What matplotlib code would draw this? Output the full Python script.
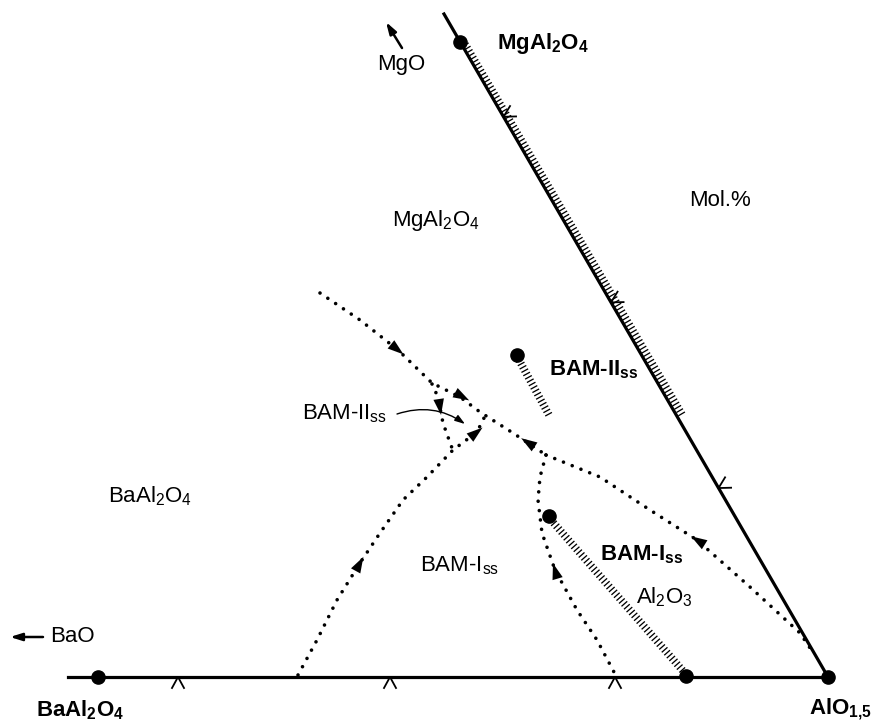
import numpy as np
import matplotlib
matplotlib.use("Agg")
import matplotlib.pyplot as plt

plt.rcParams["font.family"] = ["Liberation Sans", "DejaVu Sans"]
plt.rcParams["mathtext.fontset"] = "custom"
plt.rcParams["mathtext.rm"] = "Liberation Sans"
plt.rcParams["mathtext.bf"] = "Liberation Sans:bold"
plt.rcParams["mathtext.it"] = "Liberation Sans:italic"

# diagram coordinates (image-like units, y grows downward)
corner_ba = (68, 677)        # left end of BaAl2O4-AlO1.5 join
corner_al = (828, 677)       # AlO1,5
corner_mg = (444, 14)        # top end of MgAl2O4 join

phase_x = [98, 460, 828, 686, 517, 549]
phase_y = [677, 42, 677, 676, 355, 516]

# hatched solid-solution ranges
ss_mg_x, ss_mg_y = [462, 680], [46, 418]
ss_bam2_x, ss_bam2_y = [519, 549], [360, 415]
ss_bam1_x, ss_bam1_y = [551, 684], [520, 672]

# dotted boundary curves
cot_a_x = [320, 360, 398, 432, 460, 480, 513, 546]
cot_a_y = [293, 320, 350, 383, 397, 412, 433, 455]
cot_b_x = [432, 437, 440, 443, 448, 452]
cot_b_y = [384, 395, 408, 423, 437, 448]
cot_c_x = [298, 317, 337, 360, 380, 403, 427, 453, 477, 485]
cot_c_y = [675, 640, 600, 563, 533, 500, 477, 450, 432, 416]
cot_d_x = [546, 600, 650, 697, 750, 800, 810]
cot_d_y = [455, 477, 510, 540, 587, 633, 648]
cot_e_x = [546, 540, 538, 542, 555, 577, 597, 615]
cot_e_y = [455, 477, 500, 533, 570, 610, 640, 674]

# arrowheads on the curves: position and direction
arr_x = [398, 463, 527, 440, 360, 477, 697, 555]
arr_y = [350, 397, 442, 408, 563, 432, 540, 570]
arr_dx = [1.0, 1.0, -1.0, 0.15, 0.55, 1.0, -1.0, -0.3]
arr_dy = [0.8, 0.55, -0.65, 1.0, -1.0, -0.8, -0.62, -1.0]

# chevrons on the solid joins
chev_bot_x = [178, 390, 615]
chev_right_t = [0.155, 0.435, 0.715]


def chevron(ax, p, u, n):
    p = np.asarray(p, float)
    a = p + 11 * n - 6 * u
    b = p + 11 * n + 6 * u
    ax.plot([a[0], p[0], b[0]], [a[1], p[1], b[1]], color="black", lw=1.3)


fig = plt.figure(figsize=(8.76, 7.25), dpi=100)
ax = fig.add_axes([0, 0, 1, 1])
ax.set_xlim(0, 876)
ax.set_ylim(725, 0)
ax.axis("off")

dot_kw = dict(color="black", lw=2.6, linestyle=(0, (0.01, 2.6)), dash_capstyle="round")
for xs, ys in [(cot_a_x, cot_a_y), (cot_b_x, cot_b_y), (cot_c_x, cot_c_y),
               (cot_d_x, cot_d_y), (cot_e_x, cot_e_y)]:
    ax.plot(xs, ys, **dot_kw)

# hatching: short strokes perpendicular to the path
hatch_kw = dict(color="black", lw=5.5, linestyle=(0, (0.17, 0.33)), dash_capstyle="butt")
u_r = np.array([corner_al[0] - corner_mg[0], corner_al[1] - corner_mg[1]], float)
u_r /= np.hypot(*u_r)
n_r = np.array([u_r[1], -u_r[0]])
off = 3.5 * n_r
ax.plot(np.array(ss_mg_x) + off[0], np.array(ss_mg_y) + off[1], **hatch_kw)
ax.plot(ss_bam2_x, ss_bam2_y, **hatch_kw)
ax.plot(ss_bam1_x, ss_bam1_y, **hatch_kw)

# solid joins
ax.plot([corner_ba[0], corner_al[0]], [corner_ba[1], corner_al[1]], color="black", lw=2.3)
ax.plot([corner_mg[0], corner_al[0]], [corner_mg[1], corner_al[1]], color="black", lw=2.3)

for x in chev_bot_x:
    chevron(ax, (x, corner_ba[1]), np.array([1.0, 0.0]), np.array([0.0, 1.0]))
for t in chev_right_t:
    p = np.array(corner_mg, float) + t * (np.array(corner_al, float) - np.array(corner_mg, float))
    chevron(ax, p, u_r, n_r)

ax.plot(phase_x, phase_y, "o", color="black", ms=9.5, zorder=5)

for x, y, dx, dy in zip(arr_x, arr_y, arr_dx, arr_dy):
    d = np.array([dx, dy]) / np.hypot(dx, dy)
    ax.annotate("", xy=(x + 7 * d[0], y + 7 * d[1]), xytext=(x - 7 * d[0], y - 7 * d[1]),
                arrowprops=dict(arrowstyle="-|>,head_length=1.15,head_width=0.38",
                                color="black", lw=0.01, shrinkA=0, shrinkB=0))

# direction arrows for MgO and BaO
ax.annotate("", xy=(386, 22), xytext=(402, 48),
            arrowprops=dict(arrowstyle="-|>,head_length=0.7,head_width=0.22",
                            color="black", lw=1.8, shrinkA=0, shrinkB=0))
ax.annotate("", xy=(10, 637), xytext=(43, 637),
            arrowprops=dict(arrowstyle="-|>,head_length=0.7,head_width=0.22",
                            color="black", lw=1.8, shrinkA=0, shrinkB=0))

# pointer to the small BAM-II field
ax.annotate("", xy=(465, 424), xytext=(397, 414),
            arrowprops=dict(arrowstyle="-|>,head_length=0.6,head_width=0.2",
                            color="black", lw=1.0, shrinkA=0, shrinkB=0,
                            connectionstyle="arc3,rad=-0.25"))

fs = 16
labels = [
    ("MgO", 401, 64, "normal", "center"),
    (r"MgAl$_\mathbf{2}$O$_\mathbf{4}$", 543, 43, "bold", "center"),
    ("Mol.%", 720, 200, "normal", "center"),
    (r"MgAl$_\mathrm{2}$O$_\mathrm{4}$", 436, 220, "normal", "center"),
    (r"BAM-II$_\mathbf{ss}$", 594, 370, "bold", "center"),
    (r"BAM-II$_\mathrm{ss}$", 344, 414, "normal", "center"),
    (r"BaAl$_\mathrm{2}$O$_\mathrm{4}$", 150, 496, "normal", "center"),
    (r"BAM-I$_\mathrm{ss}$", 460, 566, "normal", "center"),
    (r"BAM-I$_\mathbf{ss}$", 642, 555, "bold", "center"),
    (r"Al$_\mathrm{2}$O$_\mathrm{3}$", 664, 597, "normal", "center"),
    ("BaO", 72, 637, "normal", "center"),
    (r"BaAl$_\mathbf{2}$O$_\mathbf{4}$", 80, 710, "bold", "center"),
    (r"AlO$_\mathbf{1{,}5}$", 872, 709, "bold", "right"),
]
for text, x, y, w, ha in labels:
    ax.text(x, y, text, fontsize=fs, fontweight=w, ha=ha, va="center")

fig.savefig("out.png", dpi=100)
